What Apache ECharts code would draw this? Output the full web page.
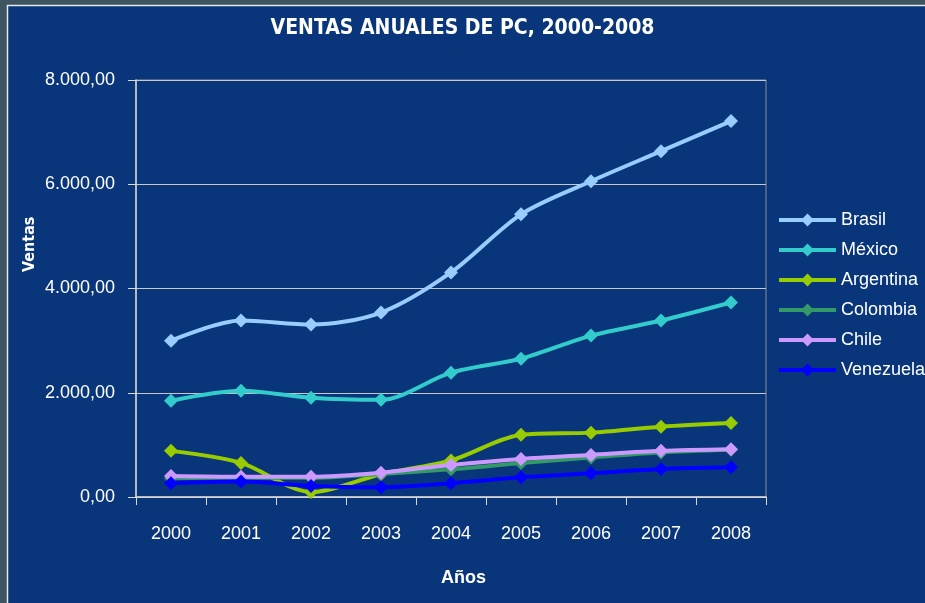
<!DOCTYPE html>
<html><head><meta charset="utf-8">
<script src="https://cdn.jsdelivr.net/npm/echarts@6/dist/echarts.min.js"></script>
<style>html,body{margin:0;padding:0;width:925px;height:603px;overflow:hidden;}#c{width:925px;height:603px;}</style>
</head><body><div id="c"></div>
<script>
const years = ['2000','2001','2002','2003','2004','2005','2006','2007','2008'];
const brasil = [3000, 3385, 3308, 3538, 4308, 5423, 6058, 6635, 7212];
const mexico = [1846, 2038, 1904, 1865, 2385, 2654, 3096, 3385, 3731];
const argentina = [885, 654, 96, 437, 700, 1192, 1235, 1350, 1420];
const colombia = [360, 370, 370, 440, 530, 650, 760, 855, 905];
const chile = [405, 390, 390, 467, 615, 730, 808, 885, 917];
const venezuela = [263, 295, 212, 186, 263, 378, 455, 538, 571];
const seriesNames = ['Brasil','México','Argentina','Colombia','Chile','Venezuela'];
const seriesColors = ['#99CCFF','#33CCCC','#99CC00','#339966','#CC99FF','#0000FF'];
const seriesData = [brasil, mexico, argentina, colombia, chile, venezuela];

function fmt(v){
  const s = Math.round(v).toString().replace(/\B(?=(\d{3})+(?!\d))/g,'.');
  return s + ',00';
}
const chart = echarts.init(document.getElementById('c'));
const font = "'Liberation Sans', Arial, sans-serif";
chart.setOption({
  backgroundColor: '#3c5560',
  animation: false,
  graphic: [
    {type:'rect', z:-10, shape:{x:7.5,y:5.5,width:930,height:610}, style:{fill:'#09367A', stroke:'#E8E8E8', lineWidth:1.5}},
    {type:'text', left: 'center', top: 18, style:{text:'VENTAS ANUALES DE PC, 2000-2008', fill:'#FFFFFF', font:"bold 21px 'Liberation Sans Narrow', 'DejaVu Sans Condensed', Arial, sans-serif"}},
    {type:'text', x: 22, y: 272, rotation: Math.PI/2, style:{text:'Ventas', fill:'#FFFFFF', font:"bold 16px 'Liberation Sans Narrow', 'DejaVu Sans Condensed', Arial, sans-serif"}},
    {type:'text', x: 441, y: 569, style:{text:'Años', fill:'#FFFFFF', font:"bold 18px 'Liberation Sans', Arial, sans-serif"}}
  ],
  grid: {left:136, right:159, top:80, bottom:106, show:true, borderColor:'#8c8c8c', borderWidth:1},
  legend: {
    orient:'vertical', left:772, top:206, itemWidth:57, itemHeight:16, itemGap:12,
    textStyle:{color:'#FFFFFF', fontSize:18, fontFamily:font},
    lineStyle:{width:4},
    data: seriesNames
  },
  xAxis: {
    type:'category', data: years, boundaryGap:true,
    axisLine:{lineStyle:{color:'#D9D9D9', width:1.5}},
    axisTick:{show:true, length:8, lineStyle:{color:'#D9D9D9'}},
    axisLabel:{color:'#FFFFFF', fontSize:18, fontFamily:font, margin:28}
  },
  yAxis: {
    type:'value', min:0, max:8000, interval:2000,
    axisLine:{show:true, lineStyle:{color:'#D9D9D9', width:1.5}},
    axisTick:{show:true, length:8, lineStyle:{color:'#D9D9D9'}},
    axisLabel:{color:'#FFFFFF', fontSize:18, fontFamily:font, margin:21, formatter: fmt},
    splitLine:{lineStyle:{color:'#C8C8C8', width:1}}
  },
  series: seriesNames.map((n,i)=>({
    name:n, type:'line', data: seriesData[i], smooth:0.3,
    symbol:'diamond', symbolSize:14,
    lineStyle:{color:seriesColors[i], width: 4},
    itemStyle:{color:seriesColors[i]},
    z: 2 + i
  }))
});
</script></body></html>
